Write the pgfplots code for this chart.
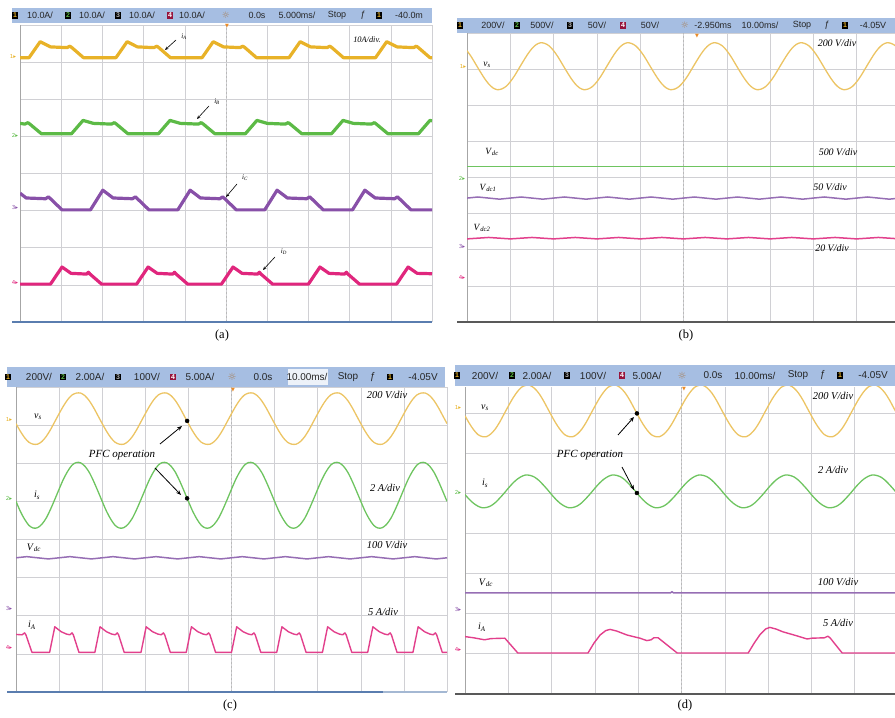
\documentclass[border=0pt]{standalone}
\usepackage{fontspec}
\setmainfont{Liberation Serif}
\newfontfamily\hdr{Liberation Sans}
\newfontfamily\sym{DejaVu Sans}
\usepackage{pgfplots}
\usepackage{pgfplotstable}
\pgfplotsset{compat=1.18}
\usetikzlibrary{arrows.meta}

\definecolor{hdrbg}{RGB}{166,190,226}
\definecolor{ya}{RGB}{232,178,40}
\definecolor{ga}{RGB}{92,186,70}
\definecolor{pa}{RGB}{136,80,168}
\definecolor{ka}{RGB}{224,38,125}
\definecolor{yb}{RGB}{236,196,100}
\definecolor{gb}{RGB}{110,196,96}
\definecolor{pb}{RGB}{150,110,180}
\definecolor{kb}{RGB}{226,64,140}
\definecolor{gridc}{RGB}{208,208,212}
\definecolor{bluel}{RGB}{90,125,175}
\definecolor{redbox}{RGB}{150,20,60}
\definecolor{trig}{RGB}{235,140,40}

\pgfplotstableread{
x yb yc gc yd gd
0.0 7.51 7.04 5.00 6.93 4.96
0.1 7.34 6.84 4.74 6.74 4.84
0.2 7.14 6.67 4.53 6.58 4.74
0.3 6.94 6.55 4.37 6.46 4.67
0.4 6.75 6.50 4.30 6.41 4.63
0.5 6.59 6.50 4.31 6.41 4.64
0.6 6.48 6.57 4.40 6.48 4.68
0.7 6.43 6.70 4.56 6.60 4.76
0.8 6.45 6.88 4.79 6.77 4.87
0.9 6.52 7.09 5.05 6.97 4.99
1.0 6.65 7.30 5.32 7.17 5.12
1.1 6.82 7.50 5.58 7.36 5.24
1.2 7.02 7.67 5.79 7.52 5.34
1.3 7.22 7.79 5.95 7.64 5.41
1.4 7.41 7.84 6.02 7.69 5.45
1.5 7.57 7.84 6.01 7.69 5.44
1.6 7.68 7.77 5.92 7.62 5.40
1.7 7.73 7.64 5.76 7.50 5.32
1.8 7.71 7.46 5.53 7.33 5.21
1.9 7.64 7.25 5.27 7.13 5.09
2.0 7.51 7.04 5.00 6.93 4.96
2.1 7.34 6.84 4.74 6.74 4.84
2.2 7.14 6.67 4.53 6.58 4.74
2.3 6.94 6.55 4.37 6.46 4.67
2.4 6.75 6.50 4.30 6.41 4.63
2.5 6.59 6.50 4.31 6.41 4.64
2.6 6.48 6.57 4.40 6.48 4.68
2.7 6.43 6.70 4.56 6.60 4.76
2.8 6.45 6.88 4.79 6.77 4.87
2.9 6.52 7.09 5.05 6.97 4.99
3.0 6.65 7.30 5.32 7.17 5.12
3.1 6.82 7.50 5.58 7.36 5.24
3.2 7.02 7.67 5.79 7.52 5.34
3.3 7.22 7.79 5.95 7.64 5.41
3.4 7.41 7.84 6.02 7.69 5.45
3.5 7.57 7.84 6.01 7.69 5.44
3.6 7.68 7.77 5.92 7.62 5.40
3.7 7.73 7.64 5.76 7.50 5.32
3.8 7.71 7.46 5.53 7.33 5.21
3.9 7.64 7.25 5.27 7.13 5.09
4.0 7.51 7.04 5.00 6.93 4.96
4.1 7.34 6.84 4.74 6.74 4.84
4.2 7.14 6.67 4.53 6.58 4.74
4.3 6.94 6.55 4.37 6.46 4.67
4.4 6.75 6.50 4.30 6.41 4.63
4.5 6.59 6.50 4.31 6.41 4.64
4.6 6.48 6.57 4.40 6.48 4.68
4.7 6.43 6.70 4.56 6.60 4.76
4.8 6.45 6.88 4.79 6.77 4.87
4.9 6.52 7.09 5.05 6.97 4.99
5.0 6.65 7.30 5.32 7.17 5.12
5.1 6.82 7.50 5.58 7.36 5.24
5.2 7.02 7.67 5.79 7.52 5.34
5.3 7.22 7.79 5.95 7.64 5.41
5.4 7.41 7.84 6.02 7.69 5.45
5.5 7.57 7.84 6.01 7.69 5.44
5.6 7.68 7.77 5.92 7.62 5.40
5.7 7.73 7.64 5.76 7.50 5.32
5.8 7.71 7.46 5.53 7.33 5.21
5.9 7.64 7.25 5.27 7.13 5.09
6.0 7.51 7.04 5.00 6.93 4.96
6.1 7.34 6.84 4.74 6.74 4.84
6.2 7.14 6.67 4.53 6.58 4.74
6.3 6.94 6.55 4.37 6.46 4.67
6.4 6.75 6.50 4.30 6.41 4.63
6.5 6.59 6.50 4.31 6.41 4.64
6.6 6.48 6.57 4.40 6.48 4.68
6.7 6.43 6.70 4.56 6.60 4.76
6.8 6.45 6.88 4.79 6.77 4.87
6.9 6.52 7.09 5.05 6.97 4.99
7.0 6.65 7.30 5.32 7.17 5.12
7.1 6.82 7.50 5.58 7.36 5.24
7.2 7.02 7.67 5.79 7.52 5.34
7.3 7.22 7.79 5.95 7.64 5.41
7.4 7.41 7.84 6.02 7.69 5.45
7.5 7.57 7.84 6.01 7.69 5.44
7.6 7.68 7.77 5.92 7.62 5.40
7.7 7.73 7.64 5.76 7.50 5.32
7.8 7.71 7.46 5.53 7.33 5.21
7.9 7.64 7.25 5.27 7.13 5.09
8.0 7.51 7.04 5.00 6.93 4.96
8.1 7.34 6.84 4.74 6.74 4.84
8.2 7.14 6.67 4.53 6.58 4.74
8.3 6.94 6.55 4.37 6.46 4.67
8.4 6.75 6.50 4.30 6.41 4.63
8.5 6.59 6.50 4.31 6.41 4.64
8.6 6.48 6.57 4.40 6.48 4.68
8.7 6.43 6.70 4.56 6.60 4.76
8.8 6.45 6.88 4.79 6.77 4.87
8.9 6.52 7.09 5.05 6.97 4.99
9.0 6.65 7.30 5.32 7.17 5.12
9.1 6.82 7.50 5.58 7.36 5.24
9.2 7.02 7.67 5.79 7.52 5.34
9.3 7.22 7.79 5.95 7.64 5.41
9.4 7.41 7.84 6.02 7.69 5.45
9.5 7.57 7.84 6.01 7.69 5.44
9.6 7.68 7.77 5.92 7.62 5.40
9.7 7.73 7.64 5.76 7.50 5.32
9.8 7.71 7.46 5.53 7.33 5.21
9.9 7.64 7.25 5.27 7.13 5.09
10.0 7.51 7.04 5.00 6.93 4.96
}\sines

\pgfplotstableread{
x pb kb pc
0.00 3.43 2.30 3.52
0.25 3.46 2.32 3.55
0.50 3.43 2.34 3.52
0.75 3.40 2.32 3.49
1.00 3.43 2.30 3.52
1.25 3.46 2.32 3.55
1.50 3.43 2.34 3.52
1.75 3.40 2.32 3.49
2.00 3.43 2.30 3.52
2.25 3.46 2.32 3.55
2.50 3.43 2.34 3.52
2.75 3.40 2.32 3.49
3.00 3.43 2.30 3.52
3.25 3.46 2.32 3.55
3.50 3.43 2.34 3.52
3.75 3.40 2.32 3.49
4.00 3.43 2.30 3.52
4.25 3.46 2.32 3.55
4.50 3.43 2.34 3.52
4.75 3.40 2.32 3.49
5.00 3.43 2.30 3.52
5.25 3.46 2.32 3.55
5.50 3.43 2.34 3.52
5.75 3.40 2.32 3.49
6.00 3.43 2.30 3.52
6.25 3.46 2.32 3.55
6.50 3.43 2.34 3.52
6.75 3.40 2.32 3.49
7.00 3.43 2.30 3.52
7.25 3.46 2.32 3.55
7.50 3.43 2.34 3.52
7.75 3.40 2.32 3.49
8.00 3.43 2.30 3.52
8.25 3.46 2.32 3.55
8.50 3.43 2.34 3.52
8.75 3.40 2.32 3.49
9.00 3.43 2.30 3.52
9.25 3.46 2.32 3.55
9.50 3.43 2.34 3.52
9.75 3.40 2.32 3.49
10.00 3.43 2.30 3.52
}\ripple

\pgfplotsset{
  scope/.style={scale only axis, anchor=south west,
    xmin=0, xmax=10, ymin=0, ymax=8,
    xtick={0,1,2,3,4,5,6,7,8,9,10}, ytick={0,1,2,3,4,5,6,7,8},
    xticklabels={,,,,,,,,,,}, yticklabels={,,,,,,,,},
    tick style={draw=none},
    grid=major, grid style={gridc, line width=0.6bp},
    axis line style={draw=none}, clip mode=individual}
}

\newcommand\chb[3]{\node[fill=black, text=#2, inner sep=0.9bp, font=\hdr\bfseries\fontsize{7}{7}\selectfont] at (#1) {#3};}
\newcommand\chr[2]{\node[fill=redbox, text=white, inner sep=0.9bp, font=\hdr\bfseries\fontsize{7}{7}\selectfont] at (#1) {#2};}
\newcommand\htx[2]{\node[font=\hdr\fontsize{9}{9}\selectfont, text=black!85, inner sep=0pt] at (#1) {#2};}
\newcommand\htc[2]{\node[font=\hdr\fontsize{10}{10}\selectfont, text=black!85, inner sep=0pt] at (#1) {#2};}
\newcommand\lb[2]{\textit{#1}\textsubscript{\textit{#2}}}
\newcommand\mk[3]{\node[font=\sym\fontsize{5.5}{5.5}\selectfont, text=#2, inner sep=0pt] at (#1) {#3▸};}
\newcommand\trg[1]{\node[font=\sym\fontsize{5}{5}\selectfont, text=trig, inner sep=0pt] at (#1) {▼};}

\begin{document}
\begin{tikzpicture}[x=1bp,y=1bp]
\path[use as bounding box] (0,0) rectangle (895,718);

% ---------------- (a) ----------------
\begin{axis}[scope, at={(20bp,396bp)}, width=412bp, height=297bp]
\draw[gray!55, dash pattern=on 2bp off 2bp] (axis cs:5,0) -- (axis cs:5,8);
\draw[gray!70, line width=1bp] (axis cs:0,0) -- (axis cs:0,8);
\addplot[ya, line width=3.2bp, line join=round] coordinates {(0,7.12)(0.22,7.12)(0.49,7.55)(0.74,7.41)(1.14,7.39)(1.21,7.43)(1.26,7.39)(1.54,7.12)(2.33,7.12)(2.60,7.55)(2.85,7.41)(3.25,7.39)(3.32,7.43)(3.37,7.39)(3.65,7.12)(4.42,7.12)(4.69,7.55)(4.94,7.41)(5.34,7.39)(5.41,7.43)(5.46,7.39)(5.74,7.12)(6.53,7.12)(6.80,7.55)(7.05,7.41)(7.45,7.39)(7.52,7.43)(7.57,7.39)(7.85,7.12)(8.63,7.12)(8.90,7.55)(9.15,7.41)(9.55,7.39)(9.62,7.43)(9.67,7.39)(9.95,7.12)(10,7.12)};
\addplot[ga, line width=3.2bp, line join=round] coordinates {(0,5.35)(0.12,5.33)(0.19,5.37)(0.24,5.33)(0.52,5.07)(1.25,5.07)(1.53,5.43)(1.78,5.35)(2.22,5.33)(2.29,5.37)(2.34,5.33)(2.62,5.07)(3.36,5.07)(3.64,5.43)(3.89,5.35)(4.33,5.33)(4.40,5.37)(4.45,5.33)(4.73,5.07)(5.47,5.07)(5.75,5.43)(6.00,5.35)(6.44,5.33)(6.51,5.37)(6.56,5.33)(6.84,5.07)(7.56,5.07)(7.84,5.43)(8.09,5.35)(8.53,5.33)(8.60,5.37)(8.65,5.33)(8.93,5.07)(9.67,5.07)(9.95,5.43)(10,5.42)};
\addplot[pa, line width=3.2bp, line join=round] coordinates {(0,3.47)(0.15,3.34)(0.62,3.32)(0.69,3.37)(0.74,3.32)(1.02,3.02)(1.71,3.02)(2.01,3.55)(2.26,3.34)(2.73,3.32)(2.80,3.37)(2.85,3.32)(3.13,3.02)(3.83,3.02)(4.13,3.55)(4.38,3.34)(4.85,3.32)(4.92,3.37)(4.97,3.32)(5.25,3.02)(5.94,3.02)(6.24,3.55)(6.49,3.34)(6.96,3.32)(7.03,3.37)(7.08,3.32)(7.36,3.02)(8.07,3.02)(8.37,3.55)(8.62,3.34)(9.09,3.32)(9.16,3.37)(9.21,3.32)(9.49,3.02)(10,3.02)};
\addplot[ka, line width=3.2bp, line join=round] coordinates {(0,1.02)(0.74,1.02)(1.02,1.48)(1.24,1.31)(1.62,1.29)(1.66,1.34)(1.70,1.29)(1.98,1.02)(2.83,1.02)(3.11,1.48)(3.33,1.31)(3.71,1.29)(3.75,1.34)(3.79,1.29)(4.07,1.02)(4.89,1.02)(5.17,1.48)(5.39,1.31)(5.77,1.29)(5.81,1.34)(5.85,1.29)(6.13,1.02)(7.00,1.02)(7.28,1.48)(7.50,1.31)(7.88,1.29)(7.92,1.34)(7.96,1.29)(8.24,1.02)(9.14,1.02)(9.42,1.48)(9.64,1.31)(10,1.30)};
\end{axis}

% ---------------- (b) ----------------
\begin{axis}[scope, at={(467bp,396bp)}, width=433bp, height=289bp]
\draw[gray!55, dash pattern=on 2bp off 2bp] (axis cs:5,0) -- (axis cs:5,8);
\draw[gray!70, line width=1bp] (axis cs:0,0) -- (axis cs:0,8);
\addplot[yb, line width=1.3bp, smooth] table[x=x, y=yb] {\sines};
\addplot[gb, line width=1.1bp] coordinates {(0,4.30)(10,4.30)};
\addplot[pb, line width=1.5bp] table[x=x, y=pb] {\ripple};
\addplot[kb, line width=1.5bp] table[x=x, y=kb] {\ripple};
\end{axis}

% ---------------- (c) ----------------
\begin{axis}[scope, at={(16bp,26bp)}, width=431bp, height=305bp]
\draw[gray!55, dash pattern=on 2bp off 2bp] (axis cs:5,0) -- (axis cs:5,8);
\draw[gray!70, line width=1bp] (axis cs:0,0) -- (axis cs:0,8);
\addplot[yb, line width=1.3bp, smooth] table[x=x, y=yc] {\sines};
\addplot[gb, line width=1.3bp, smooth] table[x=x, y=gc] {\sines};
\addplot[pb, line width=1.5bp] table[x=x, y=pc] {\ripple};
\addplot[kb, line width=1.4bp, line join=round] coordinates {(0,1.51)(0.14,1.50)(0.20,1.55)(0.23,1.50)(0.37,1.04)(0.78,1.04)(0.90,1.71)(1.05,1.58)(1.17,1.52)(1.25,1.50)(1.30,1.55)(1.33,1.50)(1.46,1.04)(1.83,1.04)(1.95,1.71)(2.10,1.58)(2.22,1.52)(2.30,1.50)(2.35,1.55)(2.38,1.50)(2.51,1.04)(2.90,1.04)(3.02,1.71)(3.17,1.58)(3.29,1.52)(3.37,1.50)(3.42,1.55)(3.45,1.50)(3.58,1.04)(3.95,1.04)(4.07,1.71)(4.22,1.58)(4.34,1.52)(4.42,1.50)(4.47,1.55)(4.50,1.50)(4.63,1.04)(5.00,1.04)(5.12,1.71)(5.27,1.58)(5.39,1.52)(5.47,1.50)(5.52,1.55)(5.55,1.50)(5.68,1.04)(6.05,1.04)(6.17,1.71)(6.32,1.58)(6.44,1.52)(6.52,1.50)(6.57,1.55)(6.60,1.50)(6.73,1.04)(7.11,1.04)(7.23,1.71)(7.38,1.58)(7.50,1.52)(7.58,1.50)(7.63,1.55)(7.66,1.50)(7.79,1.04)(8.16,1.04)(8.28,1.71)(8.43,1.58)(8.55,1.52)(8.63,1.50)(8.68,1.55)(8.71,1.50)(8.84,1.04)(9.21,1.04)(9.33,1.71)(9.48,1.58)(9.60,1.52)(9.68,1.50)(9.73,1.55)(9.76,1.50)(9.89,1.04)(10,1.04)};
\addplot[only marks, mark=*, mark size=2bp, black] coordinates {(3.97,7.11)(3.97,5.08)};
\end{axis}

% ---------------- (d) ----------------
\begin{axis}[scope, at={(465bp,25bp)}, width=433bp, height=306bp, ymax=7.65, ytick={0,1,2,3,4,5,6,7}, yticklabels={,,,,,,,}]
\draw[gray!55, dash pattern=on 2bp off 2bp] (axis cs:5,0) -- (axis cs:5,7.65);
\draw[gray!70, line width=1bp] (axis cs:0,0) -- (axis cs:0,7.65);
\addplot[yb, line width=1.3bp, smooth] table[x=x, y=yd] {\sines};
\addplot[gb, line width=1.3bp, smooth] table[x=x, y=gd] {\sines};
\addplot[pb, line width=1.5bp] coordinates {(0,2.50)(4.74,2.50)(4.78,2.53)(4.82,2.50)(10,2.50)};
\addplot[kb, line width=1.4bp, line join=round] coordinates {(0,1.41)(0.2,1.38)(0.45,1.33)(0.6,1.36)(0.92,1.37)(1.22,1.00)(2.84,1.00)(2.98,1.25)(3.12,1.45)(3.25,1.56)(3.35,1.59)(3.50,1.55)(3.74,1.45)(4.04,1.37)(4.20,1.31)(4.30,1.33)(4.36,1.38)(4.46,1.38)(4.90,1.00)(6.54,1.00)(6.68,1.25)(6.82,1.47)(6.94,1.60)(7.04,1.64)(7.18,1.60)(7.34,1.53)(7.66,1.43)(7.90,1.35)(8.01,1.37)(8.30,1.38)(8.38,1.42)(8.43,1.38)(8.71,1.00)(10,1.00)};
\addplot[only marks, mark=*, mark size=2bp, black] coordinates {(3.97,6.99)(3.97,5.00)};
\end{axis}

% ---------- headers ----------
\fill[hdrbg] (12,695) rectangle (432,710);
\chb{15,702.5}{ya}{1} \htx{40,702.5}{10.0A/}
\chb{68,702.5}{ga}{2} \htx{92,702.5}{10.0A/}
\chb{118,702.5}{gray!60}{3} \htx{142,702.5}{10.0A/}
\chr{170,702.5}{4} \htx{192,702.5}{10.0A/}
\node[font=\sym\fontsize{9}{9}\selectfont, text=gray!70!orange, inner sep=0pt] at (226,702.5) {☼};
\htx{257,702.5}{0.0s} \htx{297,702.5}{5.000ms/} \htx{337,702.5}{Stop} \htx{363,702.5}{ƒ}
\chb{379,702.5}{ya}{1} \htx{409,702.5}{-40.0m}
\trg{227,692}

\fill[hdrbg] (457,685) rectangle (895,700);
\chb{460,692.5}{ya}{1} \htx{493,692.5}{200V/}
\chb{517,692.5}{ga}{2} \htx{542,692.5}{500V/}
\chb{570,692.5}{gray!60}{3} \htx{597,692.5}{50V/}
\chr{623,692.5}{4} \htx{650,692.5}{50V/}
\node[font=\sym\fontsize{9}{9}\selectfont, text=gray!70!orange, inner sep=0pt] at (685,692.5) {☼};
\htx{713,692.5}{-2.950ms} \htx{760,692.5}{10.00ms/} \htx{802,692.5}{Stop} \htx{827,692.5}{ƒ}
\chb{845,692.5}{ya}{1} \htx{873,692.5}{-4.05V}
\trg{697,682}

\fill[hdrbg] (7,331) rectangle (445,351);
\fill[white!80!hdrbg] (288,333) rectangle (328,349);
\chb{8,341}{ya}{1} \htc{39,341}{200V/}
\chb{63,341}{ga}{2} \htc{90,341}{2.00A/}
\chb{118,341}{gray!60}{3} \htc{147,341}{100V/}
\chr{173,341}{4} \htc{200,341}{5.00A/}
\node[font=\sym\fontsize{10}{10}\selectfont, text=gray!70!orange, inner sep=0pt] at (232,341) {☼};
\htc{263,341}{0.0s} \htc{307,341}{10.00ms/} \htc{348,341}{Stop} \htc{373,341}{ƒ}
\chb{390,341}{ya}{1} \htc{423,341}{-4.05V}
\trg{233,328}

\fill[hdrbg] (455,332) rectangle (895,353);
\chb{457,342.5}{ya}{1} \htc{485,342.5}{200V/}
\chb{512,342.5}{ga}{2} \htc{537,342.5}{2.00A/}
\chb{567,342.5}{gray!60}{3} \htc{593,342.5}{100V/}
\chr{622,342.5}{4} \htc{647,342.5}{5.00A/}
\node[font=\sym\fontsize{10}{10}\selectfont, text=gray!70!orange, inner sep=0pt] at (682,342.5) {☼};
\htc{713,342.5}{0.0s} \htc{755,342.5}{10.00ms/} \htc{798,342.5}{Stop} \htc{823,342.5}{ƒ}
\chb{840,342.5}{ya}{1} \htc{873,342.5}{-4.05V}
\trg{684,329}

% ---------- bottom lines ----------
\draw[bluel, line width=1.8bp] (12,396) -- (432,396);
\draw[gray!70!black, line width=1.2bp] (457,396) -- (895,396);
\draw[bluel, line width=2.2bp] (7,26) -- (383,26);
\draw[bluel!55, line width=1.5bp] (383,26) -- (447,26);
\draw[gray!70!black, line width=1.5bp] (455,24) -- (895,24);

% ---------- channel markers ----------
\mk{13,661}{ya}{1} \mk{15,583}{ga}{2} \mk{15,510}{pa}{3} \mk{15,435}{ka}{4}
\mk{463,651}{ya}{1} \mk{462,540}{ga}{2} \mk{462,471}{pa}{3} \mk{462,440}{ka}{4}
\mk{9,298}{ya}{1} \mk{9,220}{ga}{2} \mk{9,109}{pa}{3} \mk{9,70}{ka}{4}
\mk{458,310}{ya}{1} \mk{458,226}{ga}{2} \mk{458,108}{pa}{3} \mk{458,68}{ka}{4}

% ---------- labels (a) ----------
\begin{scope}[font=\fontsize{7}{7}\selectfont, inner sep=0pt]
\node at (184,681) {\lb{i}{A}};
\node at (217,616) {\lb{i}{B}};
\node at (245,540) {\lb{i}{C}};
\node at (284,466) {\lb{i}{D}};
\node[font=\fontsize{8.4}{8.4}\selectfont\itshape] at (367,678) {10A/div.};
\end{scope}
\begin{scope}[black, line width=0.6bp, -{Stealth[length=3.5bp,width=3bp]}]
\draw (176,678) -- (165,668);
\draw (209,612) -- (197,599);
\draw (237,534) -- (226,521);
\draw (275,461) -- (263,448);
\end{scope}

% ---------- labels (b) ----------
\begin{scope}[font=\fontsize{9.5}{9.5}\selectfont, inner sep=0pt]
\node at (487,653) {\lb{v}{s}};
\node at (492,566) {\lb{V}{dc}};
\node at (488,530) {\lb{V}{dc1}};
\node at (482,490) {\lb{V}{dc2}};
\end{scope}
\begin{scope}[font=\fontsize{10}{10}\selectfont\itshape, inner sep=0pt]
\node at (837,675) {200 V/div};
\node at (838,566) {500 V/div};
\node at (830,531) {50 V/div};
\node at (832,470) {20 V/div};
\end{scope}

% ---------- labels (c) ----------
\begin{scope}[font=\fontsize{10}{10}\selectfont, inner sep=0pt]
\node at (38,301) {\lb{v}{s}};
\node at (37,223) {\lb{i}{s}};
\node at (34,170) {\lb{V}{dc}};
\node at (32,93) {\lb{i}{A}};
\end{scope}
\begin{scope}[font=\fontsize{10.5}{10.5}\selectfont\itshape, inner sep=0pt]
\node at (387,323) {200 V/div};
\node at (385,230) {2 A/div};
\node at (387,173) {100 V/div};
\node at (383,106) {5 A/div};
\node[font=\fontsize{11}{11}\selectfont\itshape] at (122,263) {PFC operation};
\end{scope}
\begin{scope}[black, line width=0.8bp, -{Stealth[length=5bp,width=4bp]}]
\draw (160,274) -- (182,292);
\draw (155,250) -- (181,223);
\end{scope}

% ---------- labels (d) ----------
\begin{scope}[font=\fontsize{10}{10}\selectfont, inner sep=0pt]
\node at (485,310) {\lb{v}{s}};
\node at (485,235) {\lb{i}{s}};
\node at (486,135) {\lb{V}{dc}};
\node at (482,91) {\lb{i}{A}};
\end{scope}
\begin{scope}[font=\fontsize{10.5}{10.5}\selectfont\itshape, inner sep=0pt]
\node at (833,322) {200 V/div};
\node at (833,248) {2 A/div};
\node at (838,136) {100 V/div};
\node at (838,95) {5 A/div};
\node[font=\fontsize{11}{11}\selectfont\itshape] at (590,263) {PFC operation};
\end{scope}
\begin{scope}[black, line width=0.8bp, -{Stealth[length=5bp,width=4bp]}]
\draw (618,283) -- (634,301);
\draw (622,251) -- (634,228);
\end{scope}

% ---------- captions ----------
\begin{scope}[font=\fontsize{12.5}{12.5}\selectfont, inner sep=0pt]
\node at (222,382) {(a)};
\node at (686,382) {(b)};
\node at (230,12) {(c)};
\node at (685,12) {(d)};
\end{scope}
\end{tikzpicture}
\end{document}
